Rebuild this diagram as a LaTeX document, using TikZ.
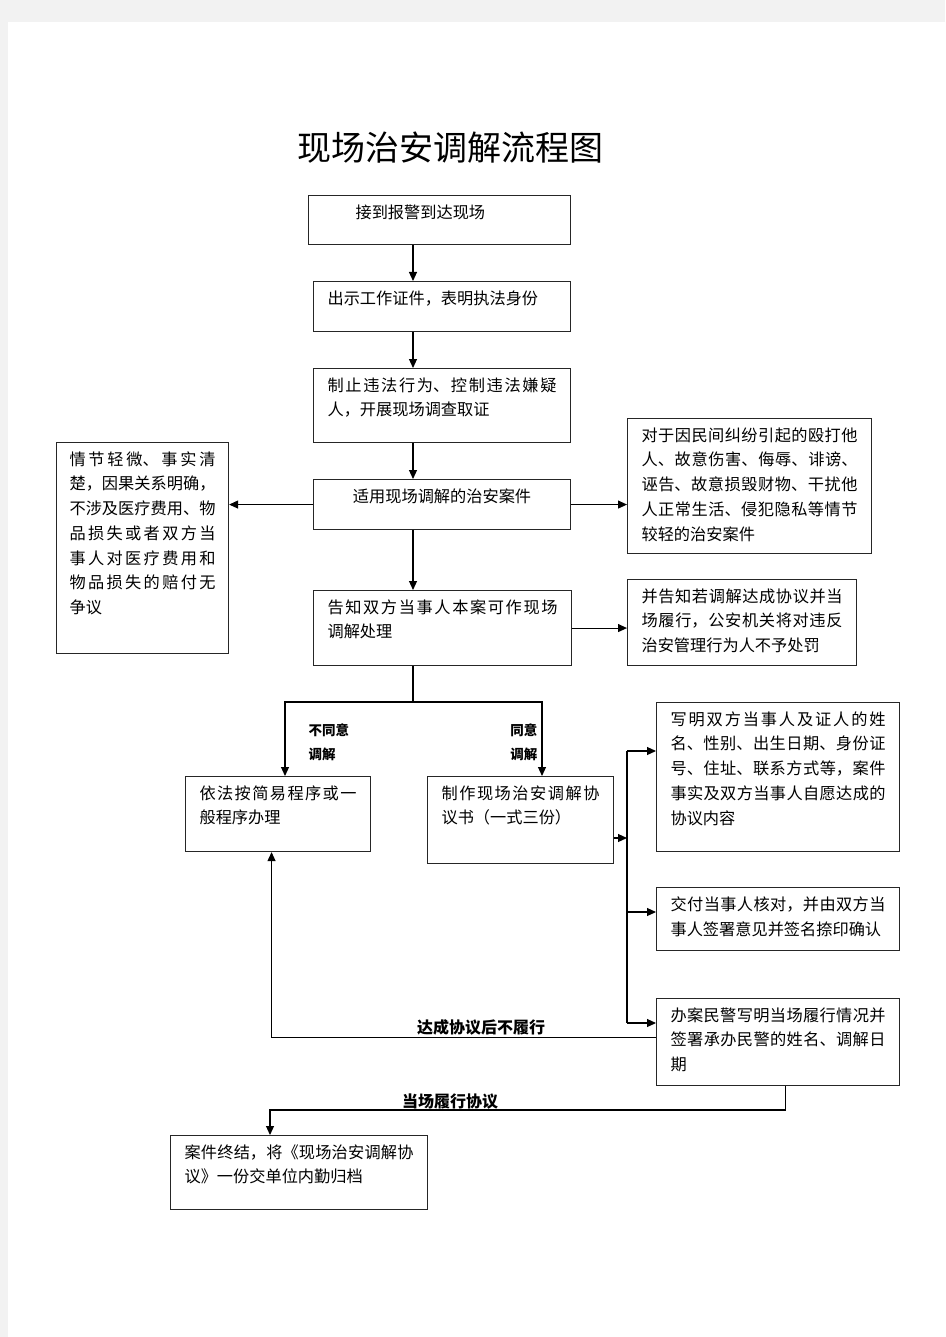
\documentclass[tikz,border=0pt]{standalone}
\usepackage{fontspec}
\setmainfont{Noto Sans CJK SC}
\usetikzlibrary{arrows.meta}
\XeTeXlinebreaklocale "zh"
\XeTeXlinebreakskip=0pt plus 3pt
\definecolor{pagegray}{HTML}{F2F2F2}

\begin{document}
\begin{tikzpicture}[x=1pt, y=-1pt, line width=1.1pt, >={Triangle[length=9pt,width=8pt]},
  box/.style={draw=black!85, rectangle, anchor=north west, inner xsep=14pt, inner ysep=9pt,
    font=\fontsize{16.2}{24.7}\selectfont},
  lbl/.style={font=\bfseries\fontsize{16}{20}\selectfont, inner sep=0pt},
  small/.style={font=\bfseries\fontsize{13.5}{24}\selectfont, inner sep=0pt}]
  \useasboundingbox (0,0) rectangle (945,1337);
  \fill[pagegray] (0,0) rectangle (945,1337);
  \fill[white] (8,22) rectangle (945,1337);

  \node[font=\fontsize{34}{40}\selectfont] (title) at (450,148) {现场治安调解流程图};

  % main column
  \node[box] (arrive) at (308,195) {\parbox[t][31pt][t]{234pt}{\hspace*{33pt}接到报警到达现场}};
  \node[box] (showid) at (313,281) {\parbox[t][32pt][t]{229pt}{出示工作证件，表明执法身份}};
  \node[box] (stop) at (313,368) {\parbox[t][56pt][t]{229pt}{制止违法行为、控制违法嫌疑\linebreak 人，开展现场调查取证}};
  \node[box] (apply) at (313,479) {\parbox[t][32pt][t]{229pt}{\centering 适用现场调解的治安案件}};
  \node[box, inner xsep=13pt] (minor) at (56,442) {\parbox[t][193pt][t]{146pt}{情节轻微、事实清\linebreak 楚，因果关系明确，\linebreak 不涉及医疗费用、物\linebreak 品损失或者双方当\linebreak 事人对医疗费用和\linebreak 物品损失的赔付无\linebreak 争议}};
  \node[box] (cases) at (627,418) {\parbox[t][117pt][t]{216pt}{对于因民间纠纷引起的殴打他\linebreak 人、故意伤害、侮辱、诽谤、\linebreak 诬告、故意损毁财物、干扰他\linebreak 人正常生活、侵犯隐私等情节\linebreak 较轻的治安案件}};
  \node[box] (inform) at (313,590) {\parbox[t][57pt][t]{230pt}{告知双方当事人本案可作现场\linebreak 调解处理}};
  \node[box] (notice) at (627,579) {\parbox[t][68pt][t]{201pt}{并告知若调解达成协议并当\linebreak 场履行，公安机关将对违反\linebreak 治安管理行为人不予处罚}};

  % branches
  \node[box] (simple) at (185,776) {\parbox[t][57pt][t]{157pt}{依法按简易程序或一\linebreak 般程序办理}};
  \node[box] (agree) at (427,776) {\parbox[t][69pt][t]{158pt}{制作现场治安调解协\linebreak 议书（一式三份）}};
  \node[box] (write) at (656,702) {\parbox[t][131pt][t]{215pt}{写明双方当事人及证人的姓\linebreak 名、性别、出生日期、身份证\linebreak 号、住址、联系方式等，案件\linebreak 事实及双方当事人自愿达成的\linebreak 协议内容}};
  \node[box] (sign) at (656,887) {\parbox[t][45pt][t]{215pt}{交付当事人核对，并由双方当\linebreak 事人签署意见并签名捺印确认}};
  \node[box] (record) at (656,998) {\parbox[t][69pt][t]{215pt}{办案民警写明当场履行情况并\linebreak 签署承办民警的姓名、调解日\linebreak 期}};
  \node[box] (close) at (170,1135) {\parbox[t][56pt][t]{229pt}{案件终结，将《现场治安调解协\linebreak 议》一份交单位内勤归档}};

  \coordinate (spine) at (413,0);
  \coordinate (nolane) at (285,702);
  \coordinate (yeslane) at (542,702);
  \coordinate (busin) at (627,838);
  \coordinate (bustop) at (627,751);
  \coordinate (busmid) at (627,912);
  \coordinate (busbot) at (627,1023);
  \coordinate (donelane) at (270,1110);

  \draw[->] (arrive.south -| spine) -- (showid.north -| spine);
  \draw[->] (showid.south -| spine) -- (stop.north -| spine);
  \draw[->] (stop.south -| spine) -- (apply.north -| spine);
  \draw[->] (apply.west) -- (apply.west -| minor.east);
  \draw[->] (apply.east) -- (apply.east -| cases.west);
  \draw[->] (apply.south -| spine) -- (inform.north -| spine);
  \draw[->] (inform.east) -- (inform.east -| notice.west);

  \draw[->] (inform.south -| spine) |- (nolane) -- (nolane |- simple.north);
  \draw[->] (inform.south -| spine) |- (yeslane) -- (yeslane |- agree.north);
  \node[small, anchor=west, align=left] (lblno) at (308,742) {不同意\\调解};
  \node[small, anchor=east, align=right] (lblyes) at (538,742) {同意\\调解};

  \draw[->] (agree.east |- busin) -- (busin);
  \draw (bustop) -- (busbot);
  \draw[->] (bustop) -- (bustop -| write.west);
  \draw[->] (busmid) -- (busmid -| sign.west);
  \draw[->] (busbot) -- (busbot -| record.west);

  \draw[->] ([yshift=5pt]record.west) -| ([xshift=-6.5pt]simple.south);
  \node[lbl] (lblbreach) at (481,1027) {达成协议后不履行};
  \draw[->] ([xshift=7.5pt]record.south) |- (donelane) -- (donelane |- close.north);
  \node[lbl] (lbldone) at (450,1102) {当场履行协议};
\end{tikzpicture}
\end{document}
